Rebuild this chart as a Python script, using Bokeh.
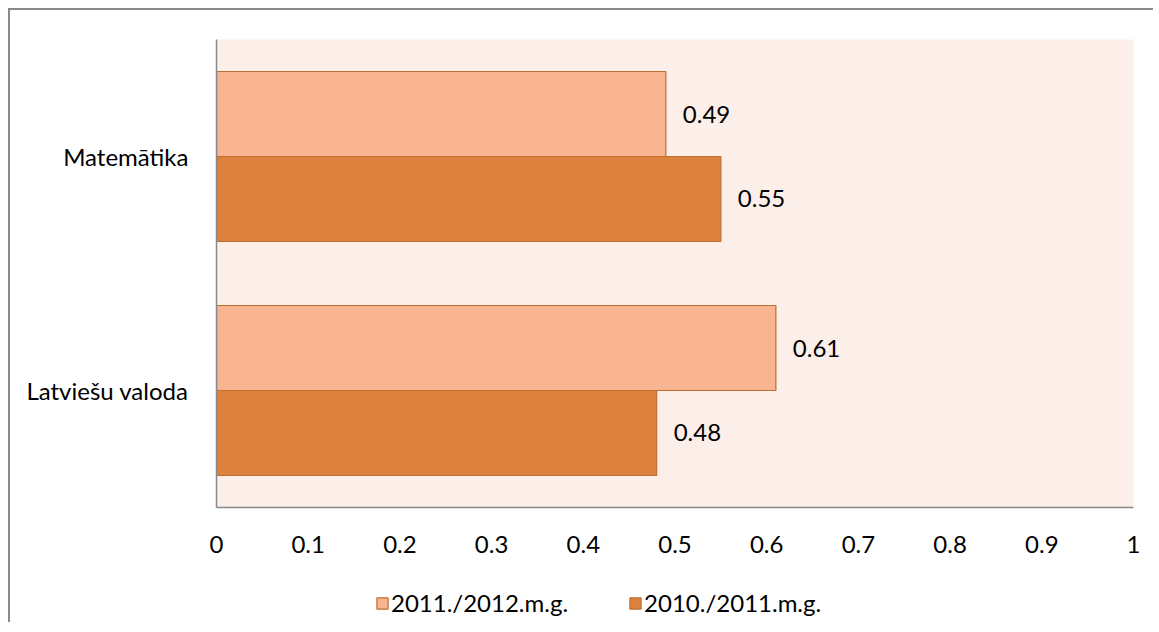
from bokeh.plotting import figure
from bokeh.layouts import column
from bokeh.models import FactorRange, Range1d, ColumnDataSource, Legend, LegendItem, FixedTicker, CustomJSTickFormatter
from bokeh.transform import dodge
from bokeh.core.properties import value
from bokeh.embed import file_html
from bokeh.resources import INLINE

categories = ["Latviešu valoda", "Matemātika"]
series_names = ["2011./2012.m.g.", "2010./2011.m.g."]
values_2011_2012 = [0.61, 0.49]
values_2010_2011 = [0.48, 0.55]
x_ticks = [0, 0.1, 0.2, 0.3, 0.4, 0.5, 0.6, 0.7, 0.8, 0.9, 1]

FONT = "Lato"
FS = "24px"
light = "#F9B591"
dark = "#DC823E"
edge = "#BF6E2E"

src = ColumnDataSource(dict(
    cat=categories,
    v1=values_2011_2012,
    v2=values_2010_2011,
    l1=[f"{v:.2f}" for v in values_2011_2012],
    l2=[f"{v:.2f}" for v in values_2010_2011],
))

p = figure(
    y_range=FactorRange(*categories), x_range=Range1d(0, 1),
    frame_width=917, frame_height=468,
    min_border_left=206, min_border_top=29, min_border_right=20, min_border_bottom=60,
    output_backend="svg", toolbar_location=None,
    background_fill_color="#FCEEE9", border_fill_color="white",
)
p.outline_line_color = None
p.grid.grid_line_color = None

off = 0.1816
h = 0.3632
r1 = p.hbar(y=dodge("cat", off, range=p.y_range), right="v1", left=0, height=h, source=src,
            fill_color=light, line_color=edge, line_width=1.2)
r2 = p.hbar(y=dodge("cat", -off, range=p.y_range), right="v2", left=0, height=h, source=src,
            fill_color=dark, line_color=edge, line_width=1.2)

p.text(x="v1", y=dodge("cat", off, range=p.y_range), text="l1", source=src, x_offset=17,
       text_baseline="middle", text_font=value(FONT), text_font_size=FS, text_color="black")
p.text(x="v2", y=dodge("cat", -off, range=p.y_range), text="l2", source=src, x_offset=17,
       text_baseline="middle", text_font=value(FONT), text_font_size=FS, text_color="black")

p.xaxis.ticker = FixedTicker(ticks=x_ticks)
p.xaxis.formatter = CustomJSTickFormatter(code="return String(Math.round(tick*10)/10);")
for ax in (p.xaxis, p.yaxis):
    ax.axis_line_color = "#898989"
    ax.axis_line_width = 1.5
    ax.major_tick_line_color = None
    ax.minor_tick_line_color = None
    ax.major_label_text_font = FONT
    ax.major_label_text_font_size = FS
    ax.major_label_text_color = "black"
p.xaxis.major_label_standoff = 22
p.yaxis.major_label_standoff = 22

# legend strip below the chart (its bars lie outside its visible ranges)
lg = figure(width=1143, height=55, x_range=Range1d(2, 3), y_range=Range1d(5, 6),
            x_axis_location=None, y_axis_location=None, min_border=0,
            output_backend="svg", toolbar_location=None,
            background_fill_color="white", border_fill_color="white")
lg.outline_line_color = None
lg.grid.grid_line_color = None
g1 = lg.hbar(y="v1", right="v1", left=0, height=0.01, source=src,
             fill_color=light, line_color=edge, line_width=1.2)
g2 = lg.hbar(y="v2", right="v2", left=0, height=0.01, source=src,
             fill_color=dark, line_color=edge, line_width=1.2)
legend = Legend(items=[LegendItem(label=series_names[0], renderers=[g1]),
                       LegendItem(label=series_names[1], renderers=[g2])],
                orientation="horizontal", location=(159, 5),
                label_text_font=FONT, label_text_font_size=FS, label_text_color="black",
                glyph_width=14, glyph_height=14, spacing=60, label_standoff=2,
                border_line_color=None, background_fill_alpha=0, margin=0, padding=0)
lg.add_layout(legend, "center")

layout = column(p, lg, spacing=0)
layout.styles = {"border-left": "2px solid #898989", "border-top": "2px solid #898989",
                 "margin-left": "8px", "margin-top": "8px"}

open("out.html", "w").write(file_html(layout, INLINE))
